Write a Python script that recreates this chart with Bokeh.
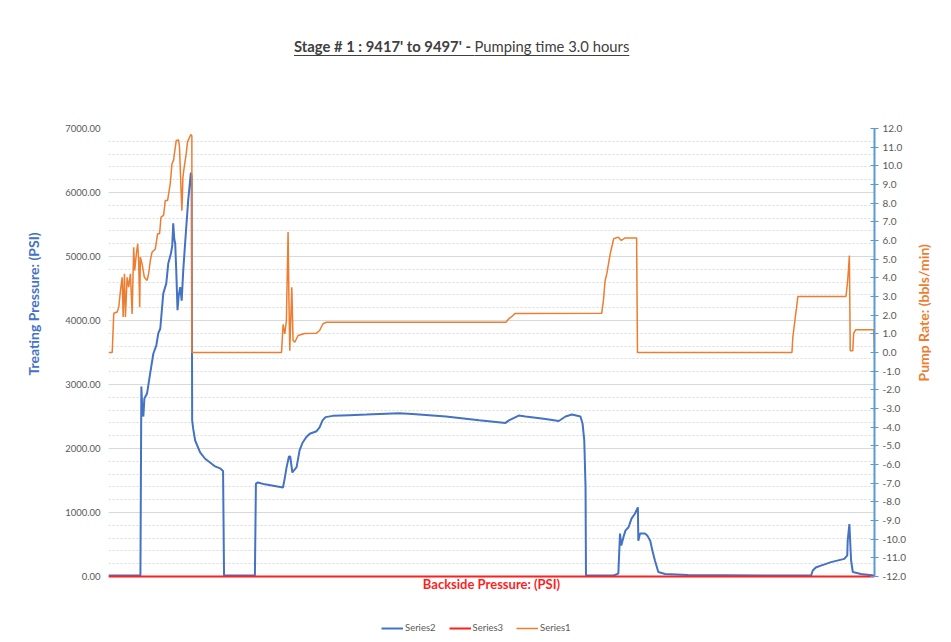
import math
from bokeh.plotting import figure
from bokeh.models import (Range1d, LinearAxis, Legend, LegendItem, Div, Label, Title,
                          FixedTicker, PrintfTickFormatter)
from bokeh.layouts import column
from bokeh.embed import file_html
from bokeh.resources import INLINE

# ---- data (time in minutes) ----
t_series2 = [0, 7.26, 7.5, 7.72, 7.96, 8.19, 8.43, 9.06, 9.83, 10.53, 11.24, 11.7, 12.17, 12.87,
             13.58, 14.04, 14.68, 14.98, 15.21, 15.45, 15.68, 15.92, 16.22, 16.5, 16.85, 17.2,
             17.56, 18.26, 18.73, 19.36, 19.54, 19.66, 19.9, 20.36, 21.53, 22.7, 23.87, 25.05,
             26.22, 26.92, 27.15, 34.4, 34.64, 35.1, 36.75, 41.0, 41.4, 41.8, 42.4, 42.7, 43.2,
             44.2, 44.9, 45.6, 46.5, 47.3, 48.9, 49.6, 50.3, 51.0, 52.7, 56.6, 60.6, 68.3, 71.4,
             79.3, 87.1, 93.3, 94.1, 96.4, 98.0, 102.7, 105.8, 107.4, 108.9, 110.9, 111.4,
             111.8, 112.1, 112.2, 118.7, 119.8, 120.2, 120.5, 121.0, 121.5, 122.2, 122.9, 123.7,
             124.4, 124.5, 124.9, 126.1, 126.6, 127.3, 127.8, 128.4, 129.2, 130.8, 136.2, 155.0,
             165.1, 165.5, 166.2, 167.4, 169.8, 172.9, 173.6, 173.7, 174.1, 174.5, 174.9, 176.8,
             179.9]
treating_psi = [15, 15, 15, 2970, 2590, 2500, 2780, 2860, 3190, 3480, 3610, 3800, 3875, 4420,
                4580, 4890, 5050, 5170, 5520, 5280, 5200, 4780, 4160, 4390, 4520, 4310,
                4780, 5450, 5880, 6310, 6250, 2440, 2310, 2125, 1940, 1840, 1780, 1720,
                1690, 1650, 15, 15, 1450, 1470, 1440, 1390, 1530, 1690, 1875, 1875, 1625,
                1710, 1970, 2090, 2180, 2230, 2270, 2330, 2440, 2490, 2510, 2520, 2530, 2550, 2540,
                2500, 2440, 2400, 2440, 2515, 2500, 2460, 2430, 2500, 2530, 2500, 2390,
                2125, 1395, 15, 15, 45, 670, 485, 615, 720, 770, 905, 980,
                1080, 560, 670, 670, 640, 560, 405, 250, 70, 40, 25, 15,
                15, 94, 140, 170, 225, 275, 330, 560, 820, 250, 70, 40,
                15]

t_series1 = [0, 0.87, 1.24, 2.04, 2.41, 2.81, 3.21, 3.44, 3.75, 3.98, 4.38, 4.75, 5.15, 5.55,
             5.92, 6.16, 6.55, 6.86, 7.09, 7.33, 7.49, 7.89, 8.43, 9.06, 9.43, 9.83, 10.23,
             11.0, 11.54, 12.0, 12.34, 12.94, 13.34, 13.88, 14.51, 14.91, 15.28, 15.92, 16.46,
             16.69, 17.02, 17.25, 17.49, 17.79, 18.26, 18.56, 19.03, 19.36, 19.59, 19.6, 40.66,
             41.03, 41.43, 41.8, 42.2, 42.4, 42.6, 43.07, 43.37, 43.77, 44.54, 46.1, 48.85, 49.6,
             50.4, 51.2, 93.4, 94.1, 94.8, 95.5, 115.9, 116.3, 116.7, 117.1, 117.9, 118.7,
             119.8, 120.5, 121.4, 124.1, 124.3, 160.6, 160.8, 162.0, 173.3, 173.7, 174.1, 174.3,
             174.9, 175.1, 175.6, 179.8, 180.0]
pump_rate = [0, 0, 2.1, 2.17, 2.43, 3.32, 4.03, 1.9, 4.22, 1.9, 4.03, 3.5, 4.22, 2.07,
             5.64, 4.39, 5.29, 5.82, 4.93, 2.43, 5.11, 4.75, 4.03, 3.86, 4.22, 4.93, 5.37,
             5.55, 6.36, 6.36, 7.25, 7.34, 8.14, 8.14, 9.04, 10.11, 10.29, 11.36, 11.39,
             11.0, 8.86, 7.6, 9.39, 9.93, 10.64, 11.27, 11.53, 11.68, 11.6, 0, 0,
             1.5, 1.0, 1.7, 6.45, 2.8, 0.1, 3.5, 0.64, 0.55, 0.91, 1.02, 1.03, 1.18,
             1.54, 1.62, 1.62, 1.82, 1.93, 2.09, 2.1, 2.79, 3.86, 4.22, 5.29, 6.09,
             6.18, 6.0, 6.14, 6.14, 0, 0, 0.8, 3.0, 3.0, 3.86, 5.2, 0.1,
             0.1, 1.02, 1.22, 1.22, 0.0]

t_series3 = [0, 180]
backside_psi = [0, 0]

left_ticks = [0, 1000, 2000, 3000, 4000, 5000, 6000, 7000]
right_ticks = list(range(-12, 13))

title_bold = "Stage # 1 : 9417' to 9497' - "
title_normal = "Pumping time 3.0 hours"
left_title = "Treating Pressure: (PSI)"
right_title = "Pump Rate: (bbls/min)"
bottom_title = "Backside Pressure: (PSI)"

BLUE = "#4472C4"
RED = "#FF1F1F"
ORANGE = "#ED7D31"
GRAY = "#595959"
FONT = "Lato"

TITLE_H = 70
PLOT_H = 448      # pixels between 0 and 7000 / -12 and 12
BELOW = 58        # frame extends below zero line to hold legend + bottom title
L_MAX, R_MIN, R_MAX = 7000, -12, 12

title_div = Div(
    text=('<div style="margin-left:294px;margin-top:36px;font-family:Lato;font-size:14.8px;'
          'color:#404040;text-decoration:underline;text-underline-offset:3px;white-space:nowrap;">'
          '<b>' + title_bold + '</b>' + title_normal + '</div>'),
    width=943, height=TITLE_H, margin=0)

y_lo = -L_MAX * BELOW / PLOT_H
r_lo = R_MIN - (R_MAX - R_MIN) * BELOW / PLOT_H

p = figure(width=943, height=634 - TITLE_H, output_backend="svg", toolbar_location=None,
           x_range=Range1d(0, 180), y_range=Range1d(y_lo, L_MAX),
           min_border_left=108, min_border_right=66, min_border_top=128 - TITLE_H,
           min_border_bottom=0)
p.extra_y_ranges = {"rate": Range1d(r_lo, R_MAX)}
p.outline_line_color = None
p.background_fill_color = "white"
p.xaxis.visible = False

# left axis
ya = p.yaxis[0]
ya.ticker = FixedTicker(ticks=left_ticks, minor_ticks=list(range(0, 7001, 200)))
ya.formatter = PrintfTickFormatter(format="%.2f")
ya.bounds = (0, L_MAX)
ya.axis_line_color = None
ya.major_tick_line_color = None
ya.minor_tick_line_color = None
ya.major_tick_out = 0
ya.major_tick_in = 0
ya.minor_tick_out = 0
ya.major_label_standoff = 8
ya.major_label_text_font = FONT
ya.major_label_text_font_size = "9.5px"
ya.major_label_text_color = GRAY

lt = Title(text=left_title, align="left", offset=259, standoff=41,
           text_color=BLUE, text_font=FONT, text_font_style="bold", text_font_size="14px")
p.add_layout(lt, "left")

# grids
p.xgrid.visible = False
p.ygrid.grid_line_color = "#D9D9D9"
p.ygrid.grid_line_width = 1
p.ygrid.minor_grid_line_color = "#DADADA"
p.ygrid.minor_grid_line_dash = "2 2"

# right axis
ra = LinearAxis(y_range_name="rate", ticker=FixedTicker(ticks=right_ticks),
                formatter=PrintfTickFormatter(format="%.1f"), bounds=(R_MIN, R_MAX))
ra.axis_line_color = "#5B9BD5"
ra.axis_line_width = 2
ra.major_tick_line_color = "#5B9BD5"
ra.major_tick_in = 4
ra.major_tick_out = 4
ra.minor_tick_line_color = None
ra.minor_tick_out = 0
ra.major_label_standoff = 4
ra.major_label_text_font = FONT
ra.major_label_text_font_size = "10px"
ra.major_label_text_color = GRAY
ra.axis_label = right_title
ra.axis_label_text_color = ORANGE
ra.axis_label_text_font = FONT
ra.axis_label_text_font_style = "bold"
ra.axis_label_text_font_size = "14px"
ra.axis_label_standoff = 15
if "axis_label_orientation" in ra.properties():
    ra.axis_label_orientation = math.pi / 2
p.add_layout(ra, "right")

r2 = p.line(t_series2, treating_psi, line_color=BLUE, line_width=2)
r3 = p.line(t_series3, backside_psi, line_color=RED, line_width=2)
r1 = p.line(t_series1, pump_rate, line_color=ORANGE, line_width=1.5, y_range_name="rate")

# bottom axis title (inside the extended frame)
bt = Label(x=383, y=51, x_units="screen", y_units="screen", text=bottom_title,
           text_font=FONT, text_font_style="bold", text_font_size="13px", text_color=RED,
           text_align="center", text_baseline="middle")
p.add_layout(bt)

legend = Legend(items=[LegendItem(label="Series2", renderers=[r2]),
                       LegendItem(label="Series3", renderers=[r3]),
                       LegendItem(label="Series1", renderers=[r1])],
                orientation="horizontal", location=(273, 1))
legend.label_text_font = FONT
legend.label_text_font_size = "9.5px"
legend.label_text_color = GRAY
legend.glyph_width = 22
legend.glyph_height = 10
legend.label_standoff = 2
legend.spacing = 13
legend.padding = 0
legend.margin = 0
legend.border_line_color = None
legend.background_fill_alpha = 0
p.add_layout(legend, "center")

layout = column(title_div, p, spacing=0)
open("out.html", "w").write(file_html(layout, INLINE))
